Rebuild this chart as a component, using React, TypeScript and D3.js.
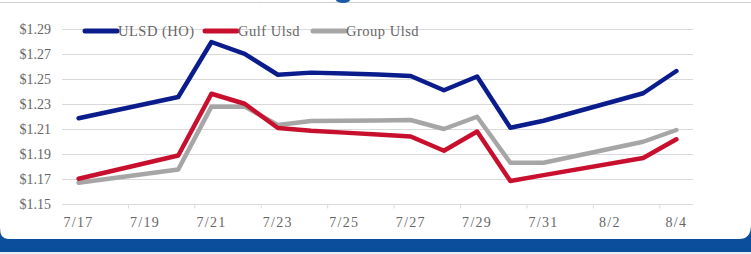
import React from "react";
import * as d3 from "d3";

const dates = ["7/17","7/18","7/19","7/20","7/21","7/22","7/23","7/24","7/25","7/26","7/27","7/28","7/29","7/30","7/31","8/1","8/2","8/3","8/4"];
const ulsdHO: (number | null)[] = [1.219,null,null,1.236,1.280,1.2705,1.2538,1.2555,1.2548,1.2540,1.2528,1.2414,1.2524,1.2114,1.217,null,null,1.239,1.2568];
const gulfUlsd: (number | null)[] = [1.1706,null,null,1.1892,1.2386,1.2306,1.2112,1.2090,1.2075,1.2060,1.2044,1.193,1.2084,1.1688,1.1735,null,null,1.1872,1.2022];
const groupUlsd: (number | null)[] = [1.1674,null,null,1.178,1.2283,1.2283,1.2136,1.2168,1.2170,1.2172,1.2176,1.2104,1.2202,1.1834,1.1834,null,null,1.2002,1.2096];
const yTicks = [1.15,1.17,1.19,1.21,1.23,1.25,1.27,1.29];
const seriesNames = ["ULSD (HO)","Gulf Ulsd","Group Ulsd"];
const seriesColors = ["#0b1d8c","#c8102e","#a6a6a6"];

const W = 751, H = 254;
const FONT = "'Liberation Serif', 'DejaVu Serif', serif";

export default function App() {
  const x = d3.scaleBand<string>().domain(dates).range([62, 693]).paddingInner(0).paddingOuter(0);
  const y = d3.scaleLinear().domain([1.15, 1.29]).range([204.5, 29.5]);
  const bw = x.bandwidth();
  const cx = (d: string) => (x(d) as number) + bw / 2;
  const all = [ulsdHO, gulfUlsd, groupUlsd];
  const line = d3.line<{d: string; v: number}>().x(p => cx(p.d)).y(p => y(p.v)).curve(d3.curveLinear);
  const paths = all.map(arr => line(dates.map((d, i) => ({ d, v: arr[i] as number })).filter(p => p.v != null)) as string);
  const legendX = [85, 205, 313];

  return (
    <svg width={W} height={H} style={{ position: "absolute", left: 0, top: 0, background: "#ffffff" }} fontFamily={FONT}>
      <rect x={0} y={0} width={W} height={H} fill="#ffffff" />
      <line x1={0} x2={W} y1={2.5} y2={2.5} stroke="#d0d0d0" strokeWidth={1} />
      <ellipse cx={343} cy={0} rx={7} ry={3} fill="#1a5aa8" />
      {/* bottom band */}
      <rect x={0} y={239} width={W} height={13} fill="#0b4f9c" />
      <rect x={0} y={252} width={W} height={2} fill="#e8eef6" />
      <path d={`M ${W - 12} 239 Q ${W} 239 ${W} 225 L ${W} 239 Z`} fill="#0b4f9c" />
      <path d={`M 0 228 Q 0 239 8 239 L 0 239 Z`} fill="#0b4f9c" />
      {/* gridlines */}
      {yTicks.map(t => (
        <line key={t} x1={62} x2={693} y1={y(t)} y2={y(t)} stroke="#d9d9d9" strokeWidth={1} />
      ))}
      {/* y labels */}
      {yTicks.map(t => (
        <text key={"l" + t} x={51} y={y(t) + 4.5} textAnchor="end" fontSize={14} fill="#666666">
          {d3.format("$.2f")(t)}
        </text>
      ))}
      {/* x ticks and labels */}
      {dates.map((d, i) => i % 2 === 0 && i > 0 ? (
        <line key={"t" + d} x1={x(d) as number} x2={x(d) as number} y1={y(1.15)} y2={y(1.15) + 4} stroke="#d9d9d9" />
      ) : null)}
      {dates.map((d, i) => i % 2 === 0 ? (
        <text key={"x" + d} x={cx(d)} y={226.5} textAnchor="middle" fontSize={14} letterSpacing={1.3} fill="#666666">{d}</text>
      ) : null)}
      {/* series */}
      {[2, 1, 0].map(k => (
        <path key={k} d={paths[k]} fill="none" stroke={seriesColors[k]} strokeWidth={4.5} strokeLinejoin="round" strokeLinecap="round" />
      ))}
      {/* legend */}
      {seriesNames.map((n, k) => (
        <g key={n}>
          <line x1={legendX[k]} x2={legendX[k] + 32} y1={31} y2={31} stroke={seriesColors[k]} strokeWidth={5} strokeLinecap="round" />
          <text x={legendX[k] + 33} y={36} fontSize={14.5} letterSpacing={0.5} fill="#666666">{n}</text>
        </g>
      ))}
    </svg>
  );
}
